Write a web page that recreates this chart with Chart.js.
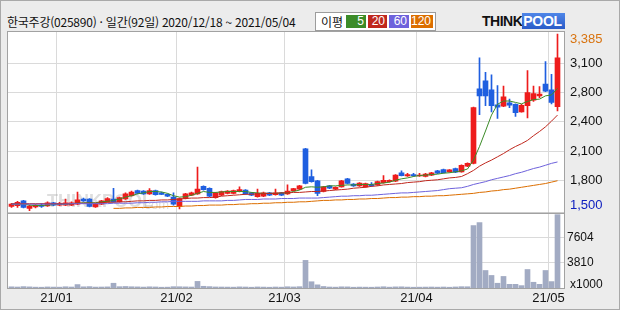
<!DOCTYPE html>
<html lang="ko">
<head>
<meta charset="utf-8">
<title>한국주강 일간 차트</title>
<script src="https://cdn.jsdelivr.net/npm/chart.js@4.4.1/dist/chart.umd.min.js"></script>
<style>
  html, body { margin: 0; padding: 0; background: #ececec; }
  #wrap { position: relative; width: 620px; height: 310px; background: #ececec; overflow: hidden; font-family: "Noto Sans CJK KR", sans-serif; }
  #frame { position: absolute; left: 0; top: 0; width: 618px; height: 308px; border: 1px solid #a9a9a9; pointer-events: none; }
  #title { position: absolute; left: 7px; top: 14px; font-size: 12px; line-height: 16px; color: #111; white-space: nowrap; letter-spacing: -0.23px; }
  #legend { position: absolute; left: 315px; top: 12px; width: 119px; height: 17px; background: #fff; border: 1px solid #9c9c9c; }
  #legend .lbl { position: absolute; left: 5px; top: 0; font-size: 12px; line-height: 17px; color: #111; }
  #legend .ma { position: absolute; top: 2px; height: 13px; color: #fff; font: 12px/13px "Liberation Sans", sans-serif; text-align: right; padding-right: 2px; box-sizing: border-box; }
  #logo { position: absolute; left: 482px; top: 14px; height: 14px; font: bold 14px/14px "Liberation Sans", sans-serif; white-space: nowrap; }
  #logo .think { color: #111; letter-spacing: -0.5px; }
  #logo .pool { color: #fff; background: linear-gradient(#4f86e8, #2a5cc8); padding: 0 3px 0 1px; letter-spacing: -0.3px; }
  canvas { position: absolute; left: 0; }
  #priceChart { top: 0; }
  #volumeChart { top: 213px; }
</style>
</head>
<body>
<div id="wrap">
  <div id="title">한국주강(025890) · 일간(92일) 2020/12/18 ~ 2021/05/04</div>
  <div id="legend">
    <span class="lbl">이평</span>
    <span class="ma" style="left:30px;width:20px;background:#3c8c28">5</span>
    <span class="ma" style="left:52px;width:19px;background:#c0281e">20</span>
    <span class="ma" style="left:73px;width:20px;background:#6e62dc">60</span>
    <span class="ma" style="left:95px;width:22px;background:#dc6e00">120</span>
  </div>
  <div id="logo"><span class="think">THINK</span><span class="pool">POOL</span></div>
  <canvas id="priceChart" width="620" height="214"></canvas>
  <canvas id="volumeChart" width="620" height="97"></canvas>
  <div id="frame"></div>
</div>
<script>
// trading days 2020/12/18 ~ 2021/05/04
const dates = [
  '2020-12-18','2020-12-21','2020-12-22','2020-12-23','2020-12-24','2020-12-28','2020-12-29','2020-12-30',
  '2021-01-04','2021-01-05','2021-01-06','2021-01-07','2021-01-08','2021-01-11','2021-01-12','2021-01-13','2021-01-14','2021-01-15',
  '2021-01-18','2021-01-19','2021-01-20','2021-01-21','2021-01-22','2021-01-25','2021-01-26','2021-01-27','2021-01-28','2021-01-29',
  '2021-02-01','2021-02-02','2021-02-03','2021-02-04','2021-02-05','2021-02-08','2021-02-09','2021-02-10','2021-02-15','2021-02-16',
  '2021-02-17','2021-02-18','2021-02-19','2021-02-22','2021-02-23','2021-02-24','2021-02-25','2021-02-26',
  '2021-03-02','2021-03-03','2021-03-04','2021-03-05','2021-03-08','2021-03-09','2021-03-10','2021-03-11','2021-03-12','2021-03-15',
  '2021-03-16','2021-03-17','2021-03-18','2021-03-19','2021-03-22','2021-03-23','2021-03-24','2021-03-25','2021-03-26','2021-03-29',
  '2021-03-30','2021-03-31',
  '2021-04-01','2021-04-02','2021-04-05','2021-04-06','2021-04-07','2021-04-08','2021-04-09','2021-04-12','2021-04-13','2021-04-14',
  '2021-04-15','2021-04-16','2021-04-19','2021-04-20','2021-04-21','2021-04-22','2021-04-23','2021-04-26','2021-04-27','2021-04-28',
  '2021-04-29','2021-04-30',
  '2021-05-03','2021-05-04'
];
const monthLabels = ['21/01', '21/02', '21/03', '21/04', '21/05'];

const opens = [1545,1555,1605,1525,1540,1560,1550,1585,1560,1560,1560,1570,1625,1625,1540,1570,1595,1625,1595,1625,
  1660,1715,1710,1680,1715,1690,1675,1645,1545,1630,1665,1680,1760,1740,1640,1665,1685,1685,1705,1720,
  1690,1650,1655,1690,1670,1690,1680,1715,1730,2160,1865,1820,1705,1765,1730,1755,1840,1785,1765,1755,
  1780,1775,1800,1810,1815,1905,1870,1885,1870,1865,1880,1925,1940,1915,1950,1915,1975,2005,2800,2885,
  2790,2630,2615,2650,2635,2555,2620,2680,2725,2850,2790,2610];
const highs = [1580,1600,1610,1560,1565,1575,1595,1590,1590,1625,1595,1700,1635,1630,1575,1610,1640,1740,1645,1690,
  1710,1720,1715,1735,1720,1700,1680,1690,1635,1685,1700,1965,1765,1745,1695,1710,1715,1720,1755,1725,
  1695,1730,1700,1695,1730,1695,1775,1740,1770,2165,1935,1825,1760,1770,1755,1825,1845,1790,1800,1795,
  1800,1815,1875,1830,1885,1925,1900,1900,1900,1900,1910,1930,1945,1940,1955,1990,2010,2605,3130,2975,
  2950,2835,2830,2690,2640,2635,2995,2830,2825,3090,2955,3385];
const lows = [1535,1535,1530,1500,1530,1535,1545,1555,1555,1555,1555,1565,1600,1540,1535,1565,1590,1590,1590,1620,
  1655,1680,1675,1675,1665,1670,1650,1560,1520,1625,1660,1675,1720,1650,1635,1660,1680,1680,1700,1675,
  1660,1645,1650,1660,1665,1660,1675,1710,1725,1785,1805,1660,1700,1735,1725,1750,1785,1760,1760,1750,
  1760,1770,1795,1805,1810,1870,1865,1865,1865,1860,1875,1895,1900,1910,1905,1910,1970,2000,2525,2620,
  2555,2485,2610,2600,2505,2550,2490,2665,2705,2770,2640,2565];
const closes = [1570,1590,1535,1550,1560,1545,1585,1560,1580,1585,1585,1615,1605,1545,1570,1605,1630,1595,1640,1680,
  1700,1685,1680,1715,1670,1675,1655,1570,1630,1680,1690,1730,1725,1655,1690,1705,1710,1715,1725,1680,
  1665,1685,1690,1665,1690,1665,1710,1735,1765,1790,1810,1685,1755,1740,1750,1820,1790,1765,1795,1790,
  1765,1810,1825,1825,1880,1875,1885,1875,1880,1890,1905,1900,1905,1935,1910,1985,2005,2600,2725,2725,
  2620,2605,2715,2625,2545,2625,2760,2750,2745,2775,2655,3130];
// volume, in thousands of shares
const volumes = [180,150,210,170,130,120,160,140,130,190,150,520,180,210,140,150,170,720,200,230,
  190,170,140,180,160,120,130,200,190,170,150,1000,260,210,160,150,140,130,170,150,
  120,160,140,120,150,130,190,160,200,4180,950,480,230,150,130,180,170,120,140,130,
  120,150,190,130,170,180,140,120,130,140,150,130,150,120,160,200,190,9450,9900,2650,
  1900,720,1750,560,560,360,2800,870,560,2650,970,11100];

const ma5 = [1570,1570,1570,1560,1555,1555,1560,1565,1570,1570,1575,1580,1585,1585,1585,1595,1600,1610,1625,1645,
  1660,1680,1690,1705,1705,1700,1685,1660,1645,1650,1665,1685,1705,1695,1695,1700,1705,1705,1705,1705,
  1695,1690,1685,1685,1685,1690,1690,1705,1720,1750,1755,1750,1755,1765,1765,1770,1775,1775,1780,1780,
  1780,1790,1795,1805,1825,1840,1850,1865,1875,1880,1885,1890,1900,1905,1915,1925,1945,2040,2185,2350,
  2520,2635,2670,2670,2655,2640,2665,2685,2690,2725,2735,2805];
const ma20 = [1575,1575,1575,1575,1575,1575,1575,1575,1575,1575,1575,1580,1580,1580,1580,1585,1590,1590,1595,1595,
  1600,1605,1605,1610,1610,1615,1615,1620,1625,1630,1635,1635,1640,1640,1645,1655,1660,1665,1670,1675,
  1675,1680,1680,1685,1685,1690,1690,1695,1695,1700,1705,1705,1710,1715,1720,1725,1730,1740,1745,1750,
  1760,1765,1775,1780,1785,1790,1800,1805,1810,1820,1825,1830,1840,1850,1855,1865,1895,1930,1975,2010,
  2040,2075,2110,2150,2185,2215,2250,2300,2345,2395,2455,2520];
const ma60 = [1570,1570,1570,1570,1570,1570,1570,1570,1570,1570,1575,1575,1575,1575,1575,1575,1575,1580,1580,1580,
  1580,1585,1585,1590,1590,1595,1595,1600,1600,1600,1600,1600,1605,1605,1605,1605,1610,1610,1615,1620,
  1620,1620,1625,1625,1625,1630,1630,1630,1635,1635,1635,1635,1640,1645,1650,1655,1655,1660,1660,1665,
  1665,1670,1675,1680,1685,1690,1690,1695,1700,1705,1710,1715,1725,1735,1740,1745,1760,1780,1795,1810,
  1830,1845,1860,1875,1895,1910,1930,1950,1965,1985,2005,2020];
const ma120 = [null,null,null,null,null,null,null,null,null,null,null,null,null,null,null,null,null,1525,1525,1530,
  1530,1535,1535,1535,1540,1540,1545,1545,1545,1550,1550,1555,1555,1560,1560,1560,1565,1565,1570,1570,
  1575,1575,1580,1580,1585,1585,1590,1590,1595,1595,1600,1605,1610,1610,1615,1615,1620,1620,1625,1625,
  1630,1630,1635,1640,1640,1645,1645,1650,1650,1655,1655,1660,1660,1665,1670,1675,1680,1685,1695,1700,
  1710,1715,1725,1730,1740,1750,1760,1770,1780,1790,1805,1820];

// right axis grid values and their printed labels
const priceGrid = [1824, 2136, 2448, 2760, 3072];
const priceGridLabels = ['1,800', '2,100', '2,400', '2,800', '3,100'];
const volumeGrid = [3802, 7604];
const volumeGridLabels = ['3810', '7604'];

const UP = '#ee1c1c';
const DOWN = '#1f5fe0';
const GRID = '#dadada';
const AXIS_FONT = { family: 'Liberation Sans', size: 13 };

// month boundaries (between last day of a month and first day of next)
const monthBreaks = [];
dates.forEach((d, i) => {
  if (i > 0 && d.slice(0, 7) !== dates[i - 1].slice(0, 7)) monthBreaks.push(i - 0.5);
});

const xRange = { min: -7 / 12, max: 92 + 1 / 12 };

const panelFrame = {
  id: 'panelFrame',
  beforeDraw(chart) {
    const { ctx, chartArea: a } = chart;
    ctx.save();
    ctx.fillStyle = '#ffffff';
    ctx.fillRect(a.left, a.top, a.right - a.left, a.bottom - a.top);
    ctx.restore();
  },
  afterDraw(chart) {
    const { ctx, chartArea: a } = chart;
    ctx.save();
    ctx.strokeStyle = '#a2a2a2';
    ctx.lineWidth = 1;
    ctx.strokeRect(a.left - 0.5, a.top - 0.5, a.right - a.left + 1, a.bottom - a.top + 1);
    ctx.restore();
  }
};

const watermark = {
  id: 'watermark',
  beforeDatasetsDraw(chart) {
    const ctx = chart.ctx;
    ctx.save();
    ctx.fillStyle = 'rgba(160,160,160,0.35)';
    ctx.font = 'bold 18px "Liberation Sans"';
    ctx.fillText('THINKPOOL', 47, 207);
    ctx.font = '13px "Liberation Sans"';
    ctx.fillText('.com', 141, 209);
    ctx.restore();
  }
};

// max high / min low printed at the top and bottom of the price axis
const priceExtremes = {
  id: 'priceExtremes',
  afterDraw(chart) {
    const { ctx, chartArea: a } = chart;
    const y = chart.scales.y;
    const hi = Math.max(...highs);
    const lo = Math.min(...lows);
    ctx.save();
    ctx.font = '13px "Liberation Sans"';
    ctx.textAlign = 'left';
    ctx.textBaseline = 'middle';
    ctx.fillStyle = '#d8730f';
    ctx.fillText(hi.toLocaleString('en-US'), a.right + 6, Math.max(y.getPixelForValue(hi), a.top + 7));
    ctx.fillStyle = '#1020c0';
    ctx.fillText(lo.toLocaleString('en-US'), a.right + 6, Math.min(y.getPixelForValue(lo), a.bottom - 7));
    ctx.restore();
  }
};

const volumeUnit = {
  id: 'volumeUnit',
  afterDraw(chart) {
    const { ctx, chartArea: a } = chart;
    ctx.save();
    ctx.font = '12px "Liberation Sans"';
    ctx.fillStyle = '#111';
    ctx.textAlign = 'left';
    ctx.textBaseline = 'middle';
    ctx.fillText('x1000', a.right + 6, a.bottom - 3);
    ctx.restore();
  }
};

const fixWidth = w => s => { s.width = w; s.paddingTop = 0; s.paddingBottom = 0; };
const fixHeight = h => s => { s.height = h; s.paddingLeft = 0; s.paddingRight = 0; };

const idx = dates.map((d, i) => i);
const candleColors = idx.map(i => (closes[i] >= opens[i] ? UP : DOWN));
const maLine = (values, color) => ({
  type: 'line',
  data: values.map((v, i) => ({ x: i, y: v })),
  borderColor: color,
  borderWidth: 1,
  pointRadius: 0,
  tension: 0,
  order: 0
});

const dayAxis = (showLabels, height) => ({
  type: 'linear',
  offset: false,
  min: xRange.min,
  max: xRange.max,
  afterBuildTicks: s => { s.ticks = monthBreaks.map(v => ({ value: v })); },
  afterFit: fixHeight(height),
  ticks: {
    display: showLabels,
    autoSkip: false,
    maxRotation: 0,
    padding: 3,
    color: '#111',
    font: AXIS_FONT,
    callback: (v, i) => monthLabels[i]
  },
  grid: { color: GRID, drawTicks: false, offset: false },
  border: { display: false }
});

new Chart(document.getElementById('priceChart'), {
  type: 'bar',
  data: {
    datasets: [
      maLine(ma120, '#dc6e00'),
      maLine(ma60, '#6e62dc'),
      maLine(ma20, '#c0281e'),
      maLine(ma5, '#3c8c28'),
      {
        data: idx.map(i => ({ x: i, y: [Math.min(opens[i], closes[i]), Math.max(opens[i], closes[i])] })),
        backgroundColor: candleColors,
        barThickness: 5,
        minBarLength: 1,
        grouped: false,
        order: 1
      },
      {
        data: idx.map(i => ({ x: i, y: [lows[i], highs[i]] })),
        backgroundColor: candleColors,
        barThickness: 1,
        grouped: false,
        order: 2
      }
    ]
  },
  options: {
    responsive: false,
    animation: false,
    events: [],
    layout: { padding: { left: 8, top: 32, right: 0, bottom: 1.5 } },
    plugins: { legend: { display: false }, tooltip: { enabled: false } },
    scales: {
      x: dayAxis(false, 0),
      y: {
        position: 'right',
        min: 1481,
        max: 3406,
        afterBuildTicks: s => { s.ticks = priceGrid.map(v => ({ value: v })); },
        afterFit: fixWidth(56),
        ticks: {
          autoSkip: false,
          padding: 6,
          color: '#111',
          font: AXIS_FONT,
          callback: (v, i) => priceGridLabels[i]
        },
        grid: { color: GRID, drawTicks: false },
        border: { display: false }
      }
    }
  },
  plugins: [panelFrame, watermark, priceExtremes]
});

new Chart(document.getElementById('volumeChart'), {
  type: 'bar',
  data: {
    datasets: [{
      data: idx.map(i => ({ x: i, y: volumes[i] })),
      backgroundColor: '#a2abc3',
      barThickness: 5,
      grouped: false
    }]
  },
  options: {
    responsive: false,
    animation: false,
    events: [],
    layout: { padding: { left: 8, top: 1, right: 0, bottom: 0 } },
    plugins: { legend: { display: false }, tooltip: { enabled: false } },
    scales: {
      x: dayAxis(true, 22),
      y: {
        position: 'right',
        min: 0,
        max: 11200,
        afterBuildTicks: s => { s.ticks = volumeGrid.map(v => ({ value: v })); },
        afterFit: fixWidth(56),
        ticks: {
          autoSkip: false,
          padding: 3,
          color: '#111',
          font: { family: 'Liberation Sans', size: 12 },
          callback: (v, i) => volumeGridLabels[i]
        },
        grid: { color: GRID, drawTicks: false },
        border: { display: false }
      }
    }
  },
  plugins: [panelFrame, volumeUnit]
});
</script>
</body>
</html>
